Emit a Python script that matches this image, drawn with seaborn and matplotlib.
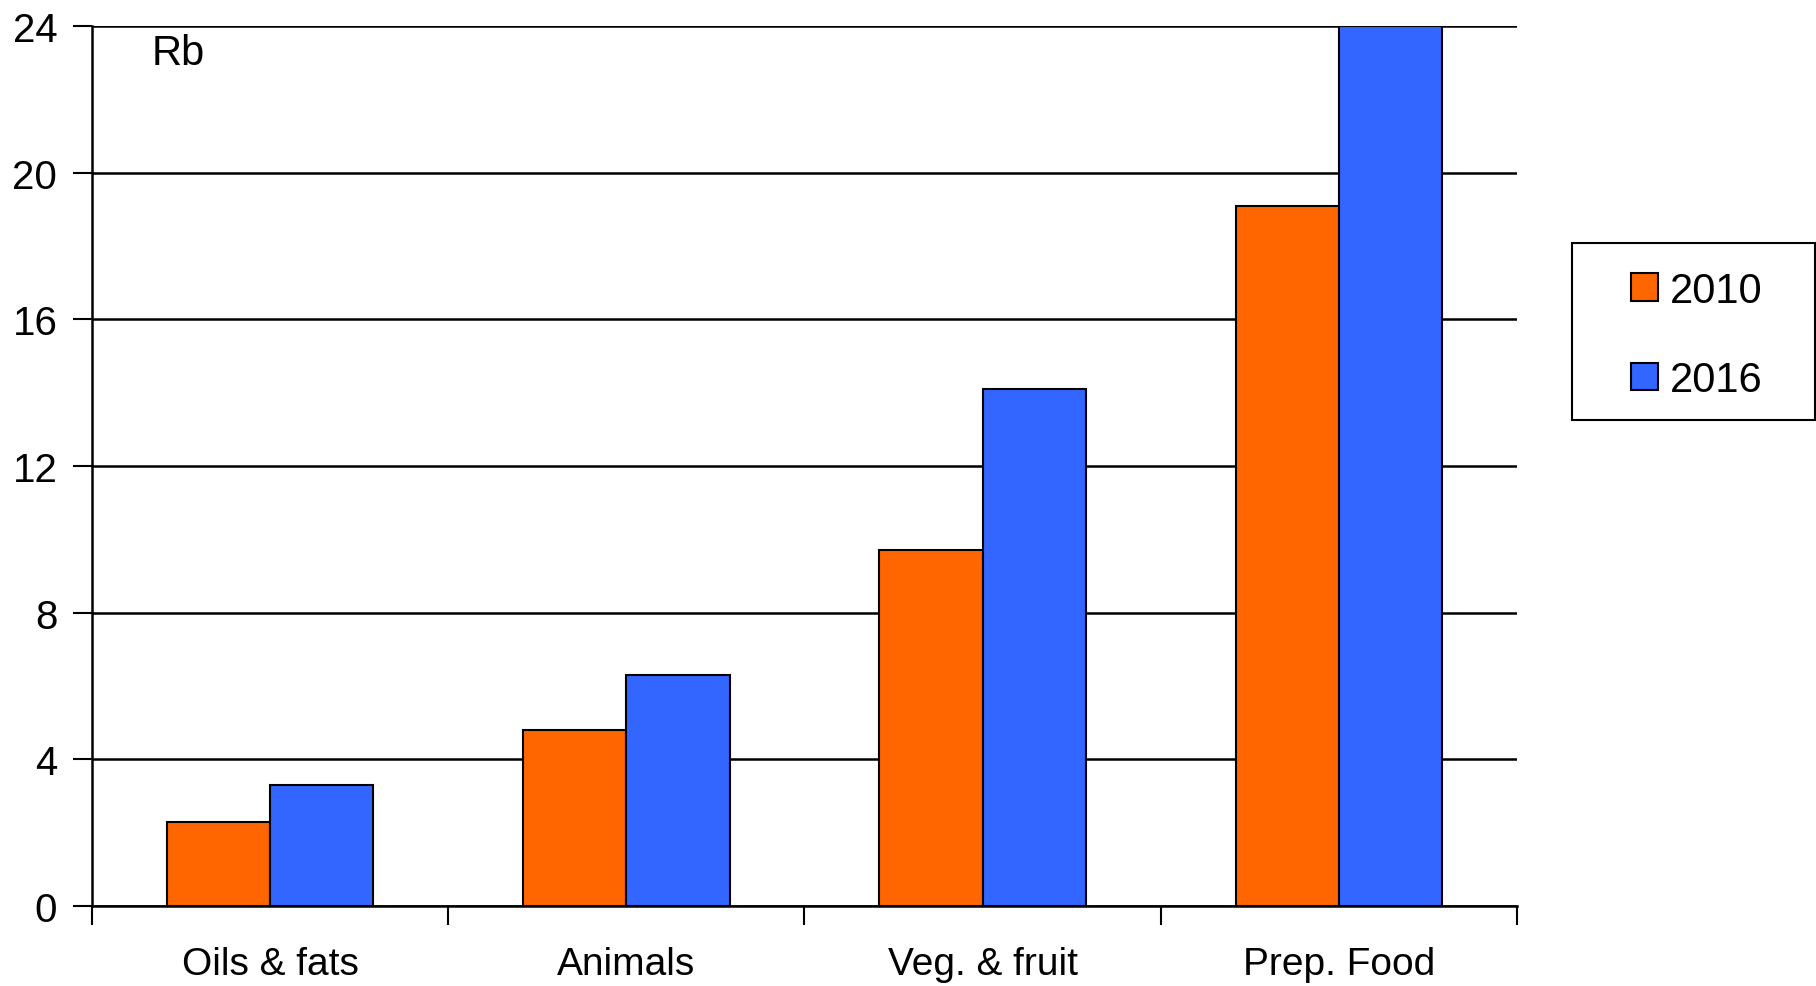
import pandas as pd
import numpy as np
import seaborn as sns
import matplotlib.pyplot as plt
from matplotlib.patches import Patch, Rectangle

# values (Rb)
categories = ["Oils & fats", "Animals", "Veg. & fruit", "Prep. Food"]
years = ["2010", "2016"]
vals_2010 = [2.3, 4.8, 9.7, 19.1]
vals_2016 = [3.3, 6.3, 14.1, 24.0]
yticks = [0, 4, 8, 12, 16, 20, 24]
colors = {"2010": "#FF6600", "2016": "#3366FF"}

df = pd.DataFrame({
    "category": categories * 2,
    "year": [years[0]] * 4 + [years[1]] * 4,
    "value": vals_2010 + vals_2016,
})

sns.set_style("white", {"text.color": "black", "xtick.color": "black",
                        "ytick.color": "black", "axes.labelcolor": "black",
                        "xtick.bottom": True, "ytick.left": True})
plt.rcParams["font.family"] = ["Liberation Sans", "DejaVu Sans"]

fig = plt.figure(figsize=(18.16, 9.87), dpi=100)
ax = fig.add_axes([0.0507, 0.081, 0.7846, 0.8916])

sns.barplot(data=df, x="category", y="value", hue="year", palette=colors,
            saturation=1, width=0.58, edgecolor="black", linewidth=1.5,
            ax=ax, legend=False, zorder=3)

ax.set_ylim(0, 24)
ax.set_xlim(-0.5, 3.5)
ax.set_yticks(yticks)
ax.yaxis.grid(True, color="black", linewidth=1.8, zorder=0)
ax.set_axisbelow(True)
ax.set_xlabel("")
ax.set_ylabel("")

# x ticks on category borders, labels centred under groups
ax.set_xticks(np.arange(-0.5, 4, 1))
ax.set_xticklabels([])
ax.set_xticks(range(4), minor=True)
ax.set_xticklabels(categories, minor=True, fontsize=28)
ax.tick_params(axis="x", which="minor", length=0, pad=29)
ax.tick_params(axis="x", which="major", direction="out", length=14, width=1.5, color="black")
ax.tick_params(axis="y", direction="out", length=14, width=1.5, color="black", labelsize=29, pad=11)

for s in ["top", "right"]:
    ax.spines[s].set_visible(False)
for s in ["left", "bottom"]:
    ax.spines[s].set_color("black")
    ax.spines[s].set_linewidth(1.8)

ax.text(0.042, 0.957, "Rb", transform=ax.transAxes, fontsize=30, va="baseline", ha="left")

# legend box drawn separately so its padding matches
fig.patches.append(Rectangle((0.8656, 0.5735), 0.1338, 0.1793, transform=fig.transFigure,
                             facecolor="white", edgecolor="black", linewidth=1.5))
handles = [Patch(facecolor=colors[y], edgecolor="black", linewidth=1.5) for y in years]
leg = fig.legend(handles, years, loc="center", bbox_to_anchor=(0.9345, 0.659),
                 fontsize=30, frameon=False, handlelength=0.63, handleheight=0.63,
                 handletextpad=0.3, labelspacing=1.19, borderpad=0, borderaxespad=0)

fig.savefig("out.png", dpi=100)
